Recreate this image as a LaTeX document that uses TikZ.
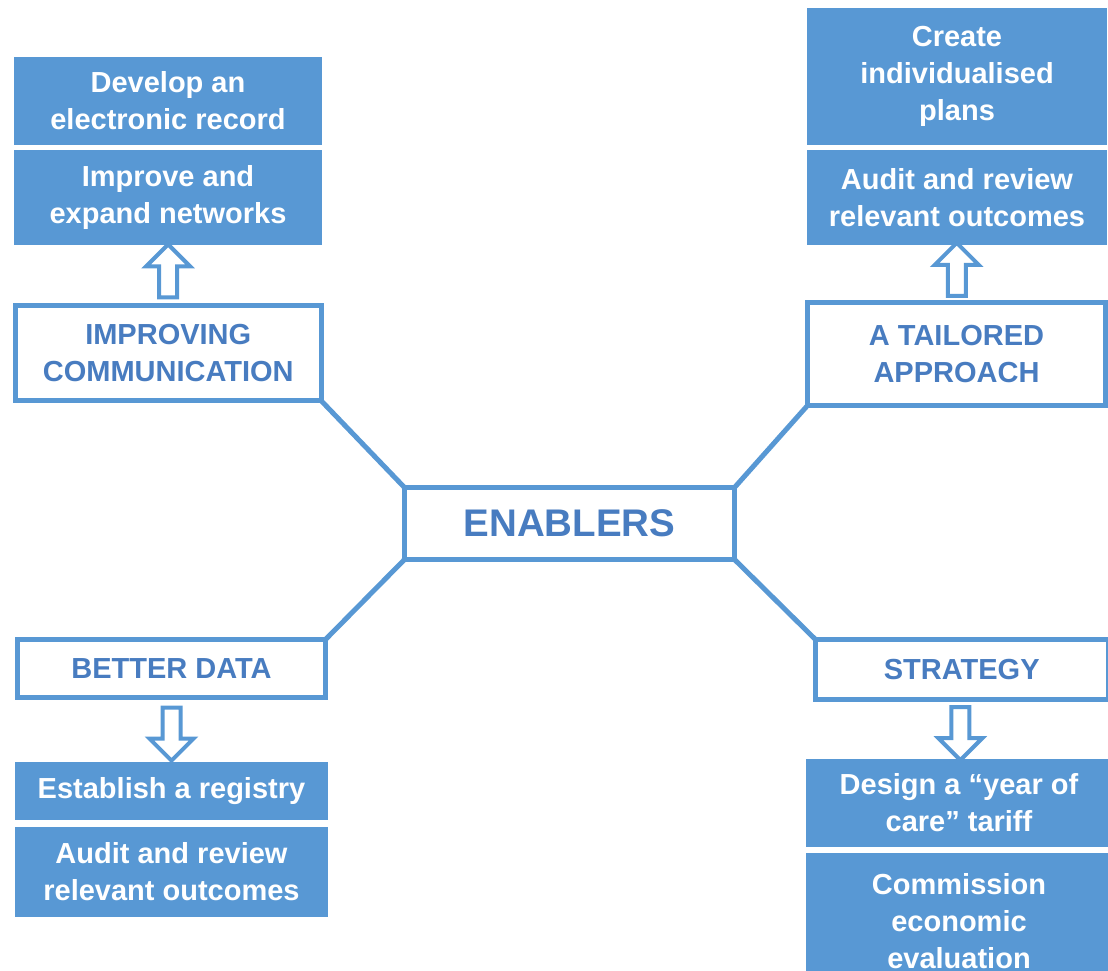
\documentclass[tikz,border=0pt]{standalone}
\usepackage{fontspec}
\setmainfont{Liberation Sans}
\usetikzlibrary{calc,shapes.arrows}
\definecolor{enblue}{RGB}{88,152,212}
\definecolor{entext}{RGB}{72,124,192}
\tikzset{
  itembox/.style={fill=enblue, text=white, align=center, inner sep=0pt,
    font=\fontsize{29}{37}\selectfont\bfseries},
  headbox/.style={draw=enblue, line width=5pt, fill=white, text=entext,
    align=center, inner sep=0pt, outer sep=0pt,
    font=\fontsize{29}{37}\selectfont\bfseries},
  link/.style={draw=enblue, line width=5pt},
  blockarrow/.style={single arrow, draw=enblue, line width=4pt, fill=white,
    inner sep=7pt, single arrow head extend=13pt, minimum height=53pt}
}
\begin{document}
\begin{tikzpicture}[x=1pt,y=-1pt]
  \useasboundingbox (0,0) rectangle (1108,970);

  % the centre
  \node[headbox, minimum width=330pt, minimum height=72pt,
    font=\fontsize{38.5}{44}\selectfont\bfseries] (en) at (569.5,523.5) {ENABLERS};

  %% the four headings
  \node[headbox, minimum width=305.5pt, minimum height=95pt] (comm) at (168.25,353) {IMPROVING\\COMMUNICATION};
  \node[headbox, minimum width=298pt, minimum height=103pt] (tail) at (956.5,354) {A TAILORED\\APPROACH};
  \node[headbox, minimum width=308pt, minimum height=58pt] (bd) at (171.5,668.5) {BETTER DATA};
  \node[headbox, minimum width=292.5pt, minimum height=60pt] (strat) at (961.75,669.5) {STRATEGY};

  % links to the centre
  \draw[link] (comm.south east) -- (en.north west);
  \draw[link] (tail.south west) -- (en.north east);
  \draw[link] (bd.north east) -- (en.south west);
  \draw[link] (strat.north west) -- (en.south east);

  %% the actions
  \node[itembox, minimum width=308pt, minimum height=88pt] (dev1) at (168,101) {Develop an\\electronic record};
  \node[itembox, minimum width=308pt, minimum height=95pt] (dev2) at (168,197.5) {Improve and\\expand networks};
  \node[itembox, minimum width=300pt, minimum height=137pt] (plan1) at (957,76.5) {Create\\individualised\\plans};
  \node[itembox, minimum width=300pt, minimum height=95pt] (plan2) at (957,197.5) {Audit and review\\relevant outcomes};
  \node[itembox, minimum width=313pt, minimum height=58pt] (reg) at (171.5,791) {Establish a registry};
  \node[itembox, minimum width=313pt, minimum height=90pt] (aud) at (171.5,872) {Audit and review\\relevant outcomes};
  \node[itembox, minimum width=306pt, minimum height=88pt] (tariff) at (959,803) {Design a “year of\\care” tariff};
  \node[itembox, minimum width=306pt, minimum height=136pt] (econ) at (959,921) {Commission\\economic\\evaluation};

  % hollow arrows
  \node[blockarrow, shape border rotate=90] (up1) at ($(comm.north)!.5!(dev2.south)$) {};
  \node[blockarrow, shape border rotate=90] (up2) at ($(tail.north)!.5!(plan2.south)$) {};
  \node[blockarrow, shape border rotate=270] (down1) at ($(bd.south)!.5!(reg.north)$) {};
  \node[blockarrow, shape border rotate=270] (down2) at ($(strat.south)!.5!(tariff.north)$) {};
\end{tikzpicture}
\end{document}
